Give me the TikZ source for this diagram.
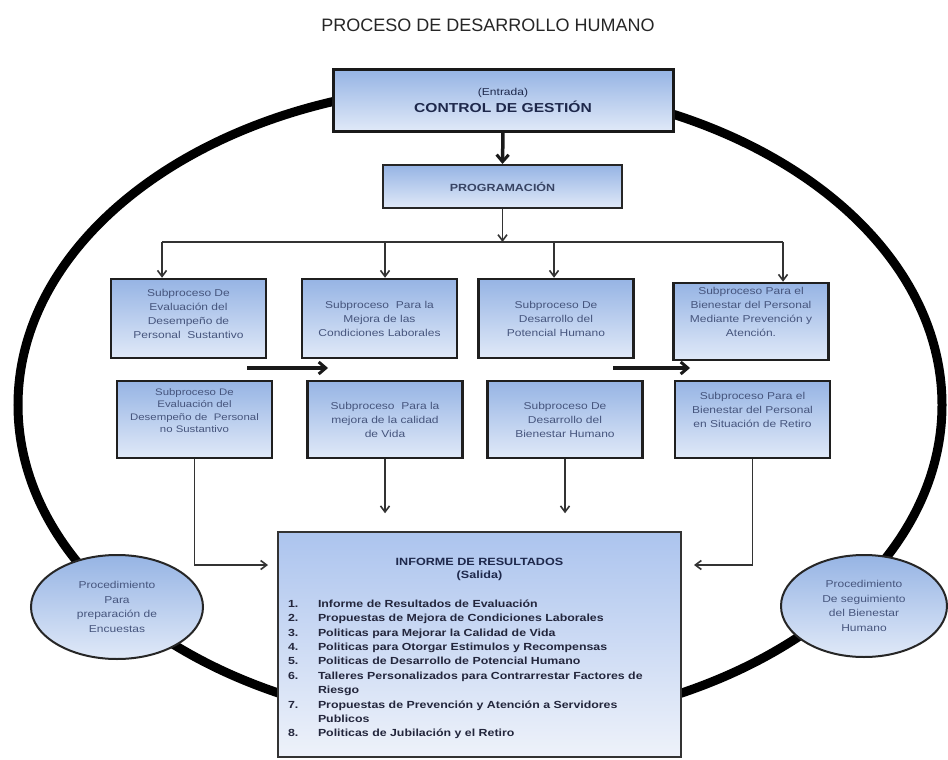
\documentclass[tikz,border=0pt]{standalone}
\usepackage{fontspec}
\setmainfont{Liberation Sans}
\newfontfamily\wf[FakeStretch=1.2]{Liberation Sans}
\usetikzlibrary{arrows.meta,shapes.geometric}
\definecolor{boxtext}{RGB}{70,85,125}
\definecolor{navy}{RGB}{30,40,75}
\definecolor{btop}{RGB}{150,180,228}
\definecolor{bbot}{RGB}{224,233,248}
\definecolor{itop}{RGB}{172,196,238}
\definecolor{ibot}{RGB}{238,242,250}
\definecolor{itemtext}{RGB}{35,38,60}
\begin{document}
\begin{tikzpicture}[x=1pt,y=-1pt,
  sub/.style={draw=black!88, line width=2.5pt, top color=btop, bottom color=bbot,
    minimum width=155pt, minimum height=79pt, inner sep=2pt, align=center,
    text=boxtext, font=\wf\fontsize{10}{14}\selectfont},
  proc/.style={ellipse, draw=black!85, line width=2pt, top color=btop, bottom color=bbot,
    inner sep=0pt, align=center, text=boxtext, font=\wf\fontsize{10}{14.5}\selectfont},
  conn/.style={draw=black!80, line width=1.6pt},
  tip/.style={-{Straight Barb[length=6pt,width=9pt,line width=1.6pt]}},
  bigarrow/.style={draw=black!90, line width=3.5pt, -{Straight Barb[length=7pt,width=12pt,line width=3pt]}}
]
\useasboundingbox (0,0) rectangle (948,760);
\fill[white] (0,0) rectangle (948,760);

% title
\node[anchor=base, font=\fontsize{18}{20}\selectfont, text=black!85] (title) at (488,32) {PROCESO DE DESARROLLO HUMANO};

% big ellipse
\node[ellipse, draw=black, line width=9pt, minimum width=924pt, minimum height=640pt, inner sep=0pt] (ring) at (480,405) {};

% top boxes
\node[draw=black!90, line width=3pt, top color=btop, bottom color=bbot, minimum width=340pt, minimum height=61pt,
  align=center, text=navy, font=\wf\fontsize{10}{12}\selectfont] (ctrl) at (503,100.5)
  {\rule{0pt}{0pt}\\[-5pt] (Entrada)\\[2pt] \fontsize{13}{15}\selectfont\bfseries CONTROL DE GESTIÓN};
\node[draw=black!85, line width=2pt, top color=btop, bottom color=bbot, minimum width=239pt, minimum height=43pt,
  text=boxtext!80!black, font=\wf\bfseries\fontsize{10.4}{12}\selectfont] (prog) at (502.5,186.5) {PROGRAMACIÓN};

% first row
\node[sub] (A) at (188.5,318.5) {Subproceso De\\Evaluación del\\Desempeño de\\Personal\ \ Sustantivo\\[-4pt]};
\node[sub] (B) at (379.5,318.5) {Subproceso\ \ Para la\\Mejora de las\\Condiciones Laborales};
\node[sub] (C) at (556,318.5) {Subproceso De\\Desarrollo del\\Potencial Humano};
\node[sub, minimum height=77pt] (D) at (751,321.5) {Subproceso Para el\\Bienestar del Personal\\Mediante Prevención y\\Atención.\\[6pt]};

% second row
\node[sub, minimum height=77pt, font=\wf\fontsize{9.5}{12.5}\selectfont] (E) at (194.5,419.5) {Subproceso De\\Evaluación del\\Desempeño de\ \ Personal\\no Sustantivo\\[5pt]};
\node[sub, minimum height=77pt] (F) at (385,419.5) {Subproceso\ \ Para la\\mejora de la calidad\\de Vida};
\node[sub, minimum height=77pt] (G) at (565,419.5) {Subproceso De\\Desarrollo del\\Bienestar Humano};
\node[sub, minimum height=77pt] (H) at (752.5,419.5) {Subproceso Para el\\Bienestar del Personal\\en Situación de Retiro\\[6pt]};

% result box
\node[draw=black!80, line width=1.8pt, top color=itop, bottom color=ibot, minimum width=403pt, minimum height=225pt,
  inner sep=0pt, text=itemtext, font=\wf\bfseries] (inf) at (479.5,644.5)
{\begin{minipage}{383pt}
 \vspace*{10pt}
 \centering\color{navy}\fontsize{10.5}{13}\selectfont INFORME DE RESULTADOS\\(Salida)\par
 \vspace{16pt}
 \raggedright\color{itemtext}\fontsize{10.3}{14.4}\selectfont
 \begin{tabular}{@{}p{30pt}@{}l@{}}
 1. & Informe de Resultados de Evaluación\\
 2. & Propuestas de Mejora de Condiciones Laborales\\
 3. & Politicas para Mejorar la Calidad de Vida\\
 4. & Politicas para Otorgar Estimulos y Recompensas\\
 5. & Politicas de Desarrollo de Potencial Humano\\
 6. & Talleres Personalizados para Contrarrestar Factores de\\
    & Riesgo\\
 7. & Propuestas de Prevención y Atención a Servidores\\
    & Publicos\\
 8. & Politicas de Jubilación y el Retiro
 \end{tabular}
\end{minipage}};

% procedure ellipses
\node[proc, minimum width=172pt, minimum height=104pt] (pl) at (117,607) {Procedimiento\\Para\\preparación de\\Encuestas};
\node[proc, minimum width=166pt, minimum height=102pt] (pr) at (864,606) {Procedimiento\\De seguimiento\\del Bienestar\\Humano};

% connectors
\draw[bigarrow] (ctrl.south) -- (prog.north);
\coordinate (hM) at (502.5,242);
\coordinate (hA) at (162,242);
\coordinate (hB) at (385,242);
\coordinate (hC) at (554,242);
\coordinate (hD) at (783,242);
\draw[conn, tip] (prog.south) -- (hM);
\draw[conn] (hA) -- (hD);
\draw[conn, tip] (hA) -- (hA |- A.north);
\draw[conn, tip] (hB) -- (hB |- B.north);
\draw[conn, tip] (hC) -- (hC |- C.north);
\draw[conn, tip] (hD) -- (hD |- D.north);

\coordinate (m1s) at (247,368);
\coordinate (m1e) at (328,368);
\coordinate (m2s) at (613,368);
\coordinate (m2e) at (690,368);
\draw[bigarrow] (m1s) -- (m1e);
\draw[bigarrow] (m2s) -- (m2e);

\coordinate (inL) at (268,565);
\coordinate (inR) at (694,565);
\draw[conn, tip] (E.south) |- (inL);
\draw[conn, tip] (H.south) |- (inR);
\draw[conn, tip] (F.south) -- ++(0,54);
\draw[conn, tip] (G.south) -- ++(0,54);
\end{tikzpicture}
\end{document}
